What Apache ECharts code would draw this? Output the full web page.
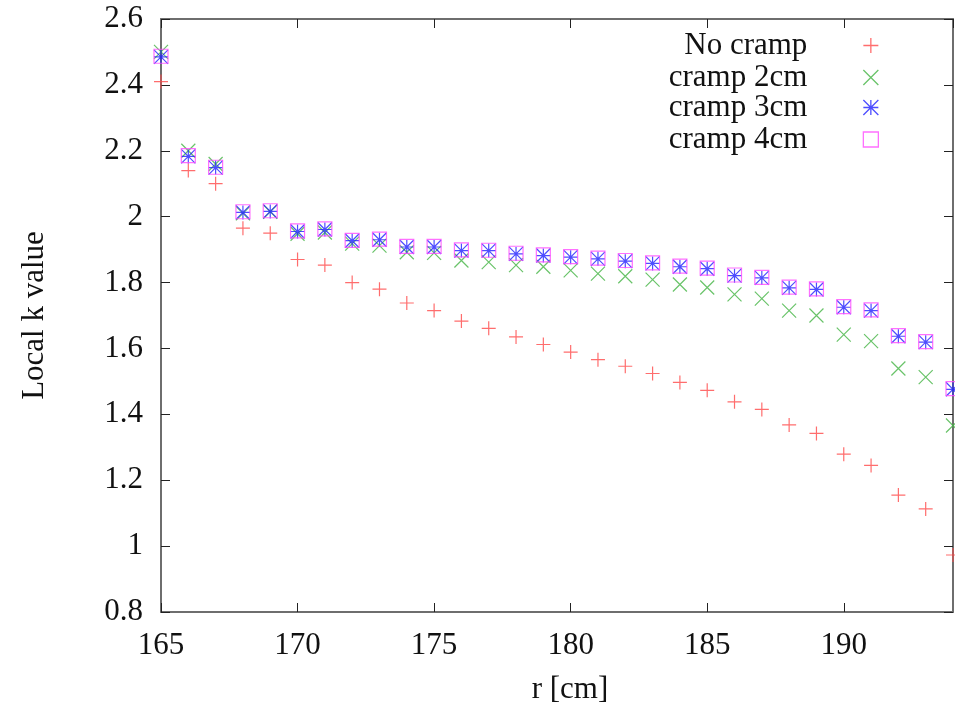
<!DOCTYPE html>
<html>
<head>
<meta charset="utf-8">
<script src="https://cdn.jsdelivr.net/npm/echarts@6/dist/echarts.min.js"></script>
<style>
html,body{margin:0;padding:0;background:#fff;overflow:hidden;}
#kChart{width:955px;height:710px;}
</style>
</head>
<body>
<div id="kChart"></div>
<script>
// r [cm]
var rValues = [165,166,167,168,169,170,171,172,173,174,175,176,177,178,179,180,181,182,183,184,185,186,187,188,189,190,191,192,193,194];
// Local k value
var noCramp = [2.41,2.14,2.10,1.965,1.95,1.87,1.853,1.80,1.78,1.738,1.715,1.683,1.661,1.635,1.612,1.589,1.566,1.546,1.524,1.497,1.473,1.438,1.415,1.368,1.342,1.279,1.245,1.155,1.113,0.973];
var cramp2 = [2.50,2.20,2.16,2.01,2.015,1.948,1.952,1.918,1.912,1.892,1.89,1.867,1.862,1.853,1.848,1.837,1.827,1.819,1.809,1.794,1.785,1.764,1.751,1.715,1.70,1.642,1.622,1.539,1.513,1.366];
var cramp3 = [2.485,2.183,2.149,2.013,2.016,1.955,1.961,1.927,1.930,1.908,1.908,1.897,1.897,1.887,1.882,1.877,1.872,1.865,1.858,1.848,1.842,1.821,1.814,1.784,1.779,1.725,1.715,1.637,1.619,1.476];
var cramp4 = [2.487,2.185,2.15,2.015,2.018,1.957,1.963,1.928,1.932,1.91,1.91,1.899,1.898,1.889,1.884,1.879,1.874,1.867,1.86,1.85,1.844,1.823,1.816,1.786,1.781,1.727,1.717,1.639,1.621,1.478];
var seriesNames = ['No cramp','cramp 2cm','cramp 3cm','cramp 4cm'];
var xTicks = {min:165,max:194,interval:5};
var yTicks = {min:0.8,max:2.6,interval:0.2};

var FONT = 'Liberation Serif';
var FSIZE = 31;
var colors = ['#ff4848','#44b444','#2020ff','#ff4cff'];
// gnuplot点型
var symbols = [
	'path://M0,-7L0,7M-7,0L7,0',                       // +
	'path://M-7,-7L7,7M-7,7L7,-7',                     // x
	'path://M0,-7L0,7M-7,0L7,0M-7,-7L7,7M-7,7L7,-7',   // *
	'path://M-7,-7L7,-7L7,7L-7,7Z'                     // 方框
];

function pairs(vals){
	var out = [];
	for(var i=0;i<rValues.length;i++){
		out.push([rValues[i], vals[i]]);
	}
	return out;
}

var kChart = echarts.init(document.getElementById('kChart'));

function axisCommon(extra){
	var a = {
		type:'value',
		axisLine:{show:true,onZero:false,lineStyle:{color:'#6e6e6e',width:2}},
		axisTick:{show:true,inside:true,length:9,lineStyle:{color:'#222',width:1}},
		splitLine:{show:false},
		axisLabel:{show:false}
	};
	for(var k in extra){ a[k] = extra[k]; }
	return a;
}

// 图例: 文字在左, 符号在右, 各自右对齐
var legendTops = [30,62,92,124];
var legends = [];
for(var i=0;i<seriesNames.length;i++){
	legends.push({
		data:[{name:seriesNames[i],icon:symbols[i]}],
		right:76,
		top:legendTops[i],
		padding:0,
		align:'right',
		itemWidth:15,
		itemHeight:15,
		selectedMode:false,
		itemStyle:{color:'transparent',borderColor:colors[i],borderWidth:1.3},
		textStyle:{fontFamily:FONT,fontSize:FSIZE,color:'#111',padding:[0,51,0,0]}
	});
}

var seriesData = [noCramp,cramp2,cramp3,cramp4];
var series = [];
for(var s=0;s<seriesData.length;s++){
	series.push({
		name:seriesNames[s],
		type:'scatter',
		symbol:symbols[s],
		symbolSize:14,
		symbolKeepAspect:true,
		itemStyle:{color:'transparent',borderColor:colors[s],borderWidth:1.2},
		emphasis:{disabled:true},
		data:pairs(seriesData[s])
	});
}

var option = {
	animation:false,
	backgroundColor:'#fff',
	grid:{left:161,right:2,top:19,bottom:97,containLabel:false},
	legend:legends,
	xAxis:[
		axisCommon({
			position:'bottom',
			min:xTicks.min,max:xTicks.max,interval:xTicks.interval,
			name:'r [cm]',
			nameLocation:'middle',
			nameGap:62,
			nameTextStyle:{fontFamily:FONT,fontSize:FSIZE,color:'#111',padding:[0,0,0,26]},
			axisLabel:{show:true,margin:18,fontFamily:FONT,fontSize:FSIZE,color:'#111',showMaxLabel:false}
		}),
		axisCommon({
			position:'top',
			min:xTicks.min,max:xTicks.max,interval:xTicks.interval
		})
	],
	yAxis:[
		axisCommon({
			position:'left',
			min:yTicks.min,max:yTicks.max,interval:yTicks.interval,
			name:'Local k value',
			nameLocation:'middle',
			nameRotate:90,
			nameGap:111,
			nameTextStyle:{fontFamily:FONT,fontSize:FSIZE,color:'#111'},
			axisLabel:{show:true,margin:18,fontFamily:FONT,fontSize:FSIZE,color:'#111'}
		}),
		axisCommon({
			position:'right',
			min:yTicks.min,max:yTicks.max,interval:yTicks.interval
		})
	],
	series:series
};
kChart.setOption(option);
</script>
</body>
</html>
